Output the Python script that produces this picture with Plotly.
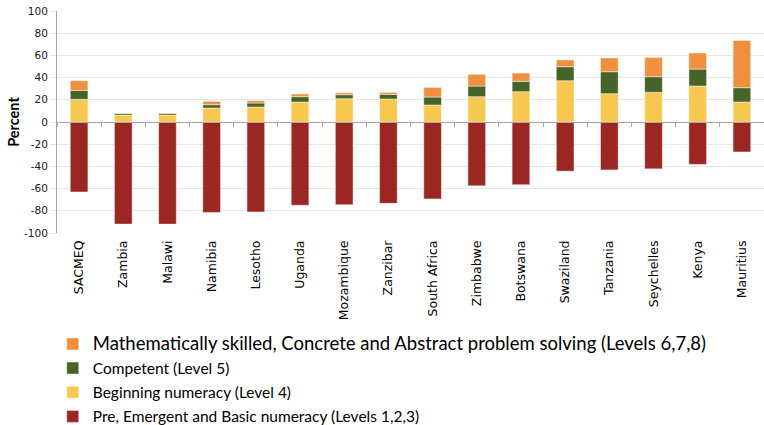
import plotly.graph_objects as go

countries = ["SACMEQ", "Zambia", "Malawi", "Namibia", "Lesotho", "Uganda", "Mozambique",
             "Zanzibar", "South Africa", "Zimbabwe", "Botswana", "Swaziland", "Tanzania",
             "Seychelles", "Kenya", "Mauritius"]
pre_basic = [-63, -92, -92, -81.5, -81, -75, -74.5, -73.3, -69.3, -57.5, -56.5, -44.3, -43.2, -42.2, -38.2, -27]
beginning = [20.4, 6.3, 6.3, 12.6, 13.5, 18, 21, 20.7, 15.3, 22.8, 27.3, 37.2, 25.5, 26.7, 32.4, 18]
competent = [8.1, 1.5, 1.5, 3.0, 3.6, 4.8, 3.6, 4.2, 7.2, 9.6, 9.3, 12.6, 19.8, 14.1, 15.3, 12.9]
skilled = [8.7, 0.3, 0.3, 3.0, 2.1, 2.4, 1.8, 1.8, 8.7, 10.5, 7.5, 6.1, 12.4, 17.4, 14.5, 42.6]

y_tickvals = [100, 80, 60, 40, 20, 0, -20, -40, -60, -80, -100]
y_ticktext = ["100", "80", "60", "40", "20", "0", "-20", "-40", "-60", "-80", "-100"]

names = [
    "Pre, Emergent and Basic numeracy (Levels 1,2,3)",
    "Beginning numeracy (Level 4)",
    "Competent (Level 5)",
    '<span style="font-size:18.5px">Mathematically skilled, Concrete and Abstract problem solving (Levels 6,7,8)</span>',
]
colors = ["#9C2622", "#F8C74E", "#466328", "#F0903F"]
ranks = [4, 3, 2, 1]
series = [pre_basic, beginning, competent, skilled]

FONT = "Lato"
fig = go.Figure()
for k, (vals, nm, col, rk) in enumerate(zip(series, names, colors, ranks)):
    fig.add_trace(go.Bar(x=countries, y=vals, name=nm, legendgroup=f"g{k}", legendrank=rk,
                         marker=dict(color=col, line=dict(color="rgba(255,255,255,0.45)", width=1)),
                         width=0.4))

n = len(countries)
fig.update_layout(
    width=764, height=425,
    barmode="relative",
    plot_bgcolor="white", paper_bgcolor="white",
    margin=dict(l=57, r=0, t=11, b=192, autoexpand=False),
    font=dict(family=FONT, color="#000000"),
    showlegend=True,
    legend=dict(x=-0.006, y=-0.425, xanchor="left", yanchor="top", traceorder="grouped",
                font=dict(size=15.5, family=FONT, color="#000000"), tracegroupgap=1,
                itemwidth=30, bgcolor="rgba(0,0,0,0)"),
    xaxis=dict(type="category", range=[-0.5, n - 0.5], tickangle=-90,
               showgrid=False, showline=False, ticks="", ticklabelstandoff=4,
               tickfont=dict(size=12.5, family="DejaVu Sans", color="#000000")),
    xaxis2=dict(overlaying="x", anchor="free", position=0.5, type="linear",
                range=[-0.5, n - 0.5], tickvals=[i - 0.5 for i in range(n + 1)],
                showticklabels=False, ticks="outside", ticklen=4, tickcolor="#A6A6A6",
                showline=True, linecolor="#A6A6A6", linewidth=1, showgrid=False, zeroline=False),
    yaxis=dict(range=[-100, 100], tickvals=y_tickvals, ticktext=y_ticktext,
               showgrid=True, gridcolor="#E6E6E6", gridwidth=1,
               zeroline=False, showline=True, linecolor="#A6A6A6", linewidth=1,
               ticks="outside", ticklen=6, tickcolor="#E6E6E6",
               tickfont=dict(size=10.5, family="DejaVu Sans", color="#1a1a1a"),
               title=dict(text="<b>Percent</b>", font=dict(size=14.5, family=FONT, color="#000000"),
                          standoff=0)),
)
# invisible trace to activate xaxis2 (zero line with boundary ticks)
fig.add_trace(go.Scatter(x=[0], y=[0], xaxis="x2", mode="markers", marker=dict(opacity=0),
                         showlegend=False, hoverinfo="skip"))
fig.write_html("out.html")
